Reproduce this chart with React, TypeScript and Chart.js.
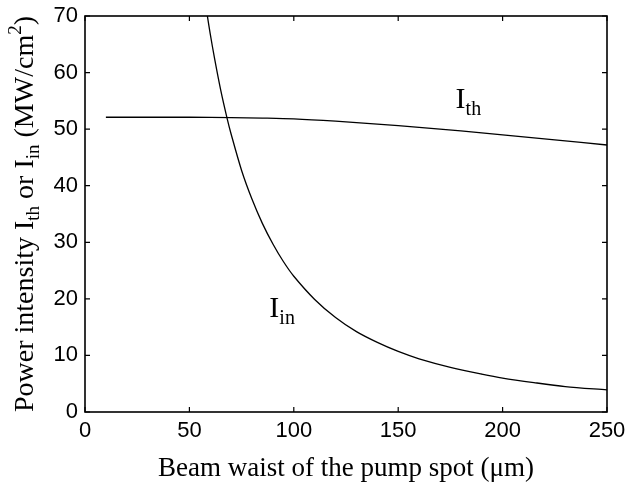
import React, { useEffect, useRef } from "react";
import { Chart, registerables } from "chart.js";

Chart.register(...registerables);

// I_th curve (threshold intensity)
const thWaist = [10, 30, 50, 70, 85, 100, 120, 140, 160, 180, 200, 225, 250];
const thValues = [52.1, 52.1, 52.1, 52.05, 51.95, 51.8, 51.4, 50.9, 50.3, 49.7, 49.0, 48.1, 47.2];

// I_in curve (input intensity)
const inWaist = [55, 58, 60, 62, 65, 68, 70, 75, 80, 85, 90, 95, 100, 110, 120, 130, 140, 150, 160, 175, 190, 200, 215, 230, 250];
const inValues = [79.5, 71.5, 66.8, 62.6, 56.9, 52.0, 49.1, 42.7, 37.6, 33.3, 29.7, 26.6, 24.0, 19.9, 16.7, 14.2, 12.3, 10.7, 9.4, 7.9, 6.7, 6.0, 5.2, 4.5, 3.9];

const xTicks = [0, 50, 100, 150, 200, 250];
const yTicks = [0, 10, 20, 30, 40, 50, 60, 70];

const SANS = "'Liberation Sans', Arial, Helvetica, sans-serif";
const SERIF = "'Liberation Serif', 'Times New Roman', Times, serif";

type Seg = { t: string; sub?: boolean; sup?: boolean };

function drawRich(ctx: CanvasRenderingContext2D, segs: Seg[], x: number, y: number, size: number, align: "left" | "center") {
  const small = Math.round(size * 0.68);
  const widths = segs.map((s) => {
    ctx.font = `${s.sub || s.sup ? small : size}px ${SERIF}`;
    return ctx.measureText(s.t).width;
  });
  const total = widths.reduce((a, b) => a + b, 0);
  let cx = align === "center" ? x - total / 2 : x;
  ctx.textBaseline = "alphabetic";
  ctx.textAlign = "left";
  segs.forEach((s, i) => {
    ctx.font = `${s.sub || s.sup ? small : size}px ${SERIF}`;
    const dy = s.sub ? size * 0.22 : s.sup ? -size * 0.42 : 0;
    ctx.fillText(s.t, cx, y + dy);
    cx += widths[i];
  });
}

const framePlugin = {
  id: "frame",
  afterDraw(chart: any) {
    const { ctx, chartArea: a, scales } = chart;
    const xs = scales.x;
    const ys = scales.y;
    ctx.save();
    ctx.strokeStyle = "#000";
    ctx.fillStyle = "#000";
    ctx.lineWidth = 1.6;
    ctx.strokeRect(a.left, a.top, a.right - a.left, a.bottom - a.top);
    ctx.lineWidth = 1.2;
    const tl = 5;
    ctx.beginPath();
    xTicks.forEach((v) => {
      const px = xs.getPixelForValue(v);
      ctx.moveTo(px, a.bottom);
      ctx.lineTo(px, a.bottom - tl);
      ctx.moveTo(px, a.top);
      ctx.lineTo(px, a.top + tl);
    });
    yTicks.forEach((v) => {
      const py = ys.getPixelForValue(v);
      ctx.moveTo(a.left, py);
      ctx.lineTo(a.left + tl, py);
      ctx.moveTo(a.right, py);
      ctx.lineTo(a.right - tl, py);
    });
    ctx.stroke();

    // x title
    drawRich(ctx, [{ t: "Beam waist of the pump spot (\u03BCm)" }], (a.left + a.right) / 2, 476, 27, "center");

    // y title
    ctx.save();
    ctx.translate(33, (a.top + a.bottom) / 2);
    ctx.rotate(-Math.PI / 2);
    drawRich(
      ctx,
      [
        { t: "Power intensity I" },
        { t: "th", sub: true },
        { t: " or I" },
        { t: "in", sub: true },
        { t: " (MW/cm" },
        { t: "2", sup: true },
        { t: ")" },
      ],
      0,
      0,
      28,
      "center"
    );
    ctx.restore();

    // curve labels
    drawRich(ctx, [{ t: "I" }, { t: "th", sub: true }], xs.getPixelForValue(177.5), ys.getPixelForValue(53.7), 30, "left");
    drawRich(ctx, [{ t: "I" }, { t: "in", sub: true }], xs.getPixelForValue(88.3), ys.getPixelForValue(16.8), 30, "left");
    ctx.restore();
  },
};

export default function App() {
  const ref = useRef<HTMLCanvasElement>(null);
  useEffect(() => {
    if (!ref.current) return;
    const chart = new Chart(ref.current, {
      type: "line",
      data: {
        datasets: [
          {
            label: "Ith",
            data: thWaist.map((x, i) => ({ x, y: thValues[i] })),
            borderColor: "#000",
            borderWidth: 1.3,
            pointRadius: 0,
            tension: 0.3,
            fill: false,
          },
          {
            label: "Iin",
            data: inWaist.map((x, i) => ({ x, y: inValues[i] })),
            borderColor: "#000",
            borderWidth: 1.3,
            pointRadius: 0,
            tension: 0.3,
            fill: false,
          },
        ],
      },
      plugins: [framePlugin],
      options: {
        responsive: false,
        animation: false,
        layout: { padding: { top: 16, right: 21, left: 0, bottom: 0 } },
        plugins: { legend: { display: false }, tooltip: { enabled: false } },
        scales: {
          x: {
            type: "linear",
            min: 0,
            max: 250,
            afterFit: (s: any) => {
              s.height = 72;
              s.paddingLeft = 0;
              s.paddingRight = 0;
            },
            afterBuildTicks: (s: any) => {
              s.ticks = xTicks.map((v) => ({ value: v }));
            },
            grid: { display: false, drawTicks: false },
            border: { display: false },
            ticks: { color: "#000", padding: 6, maxRotation: 0, font: { size: 22, family: SANS } },
          },
          y: {
            type: "linear",
            min: 0,
            max: 70,
            afterFit: (s: any) => {
              s.width = 85;
              s.paddingTop = 0;
              s.paddingBottom = 0;
            },
            afterBuildTicks: (s: any) => {
              s.ticks = yTicks.map((v) => ({ value: v }));
            },
            grid: { display: false, drawTicks: false },
            border: { display: false },
            ticks: { color: "#000", padding: 7, font: { size: 22, family: SANS } },
          },
        },
      },
    } as any);
    return () => chart.destroy();
  }, []);
  return (
    <div style={{ position: "absolute", left: 0, top: 0, width: 628, height: 484, background: "#fff" }}>
      <canvas ref={ref} width={628} height={484} style={{ display: "block" }} />
    </div>
  );
}
